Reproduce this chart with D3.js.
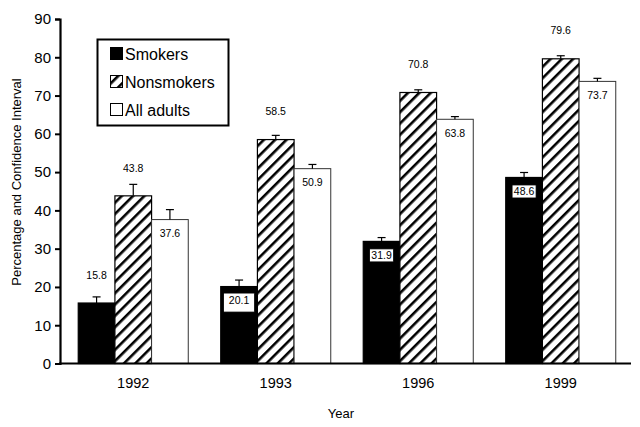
<!DOCTYPE html>
<html><head><meta charset="utf-8">
<script src="https://cdn.jsdelivr.net/npm/d3@7"></script>
<style>body{margin:0;background:#fff}svg{display:block;font-family:"Liberation Sans",Arial,sans-serif}</style>
</head><body><svg id="c" width="640" height="427"></svg>
<script>
const years = ["1992","1993","1996","1999"];
const seriesNames = ["Smokers","Nonsmokers","All adults"];
const smokers = [15.8,20.1,31.9,48.6];
const nonsmokers = [43.8,58.5,70.8,79.6];
const allAdults = [37.6,50.9,63.8,73.7];
const smokersUpper = [17.4,21.8,32.9,49.9];
const nonsmokersUpper = [46.8,59.6,71.5,80.4];
const allAdultsUpper = [40.2,52.0,64.5,74.5];
const yTicks = [0,10,20,30,40,50,60,70,80,90];

const values = [smokers, nonsmokers, allAdults];
const uppers = [smokersUpper, nonsmokersUpper, allAdultsUpper];

const svg = d3.select("#c");
const defs = svg.append("defs");
const pat = defs.append("pattern").attr("id","hatch").attr("patternUnits","userSpaceOnUse")
  .attr("width",8).attr("height",8).attr("patternTransform","rotate(45)");
pat.append("rect").attr("width",8).attr("height",8).attr("fill","#fff");
pat.append("line").attr("x1",0).attr("y1",0).attr("x2",0).attr("y2",8).attr("stroke","#000").attr("stroke-width",5.2);

const x0 = d3.scaleBand().domain(years).range([62,632]).paddingInner(0.228).paddingOuter(0.114);
const x1 = d3.scaleBand().domain(seriesNames).range([0,x0.bandwidth()]);
const y = d3.scaleLinear().domain([0,90]).range([363.5,19]);

// axes
const yAxis = svg.append("g").attr("transform","translate(60,0)")
  .call(d3.axisLeft(y).tickValues(yTicks).tickSize(5).tickPadding(4));
yAxis.select(".domain").attr("stroke-width",2.2);
yAxis.selectAll(".tick line").attr("stroke-width",2);
yAxis.selectAll("text").attr("font-size",15).attr("font-family","Liberation Sans, Arial, sans-serif").attr("fill","#000");

const fills = ["#000","url(#hatch)","#fff"];
years.forEach((yr,i)=>{
  const g = svg.append("g").attr("transform",`translate(${x0(yr)},0)`);
  seriesNames.forEach((s,j)=>{
    const v = values[j][i], up = uppers[j][i];
    const bx = x1(s), bw = x1.bandwidth();
    g.append("rect").attr("x",bx).attr("y",y(v)).attr("width",bw).attr("height",y(0)-y(v))
      .attr("fill",fills[j]).attr("stroke",j===2?"#333":"#000").attr("stroke-width",j===2?1:1.2);
    const cx = bx + bw/2;
    g.append("line").attr("x1",cx).attr("x2",cx).attr("y1",y(v)).attr("y2",y(up)).attr("stroke","#000").attr("stroke-width",1.2);
    g.append("line").attr("x1",cx-4).attr("x2",cx+4).attr("y1",y(up)).attr("y2",y(up)).attr("stroke","#000").attr("stroke-width",1.2);
    let ly, inside=false;
    if (j===1 || (j===0 && v<18)) { ly = y(v) - 28; }
    else { ly = y(v) + 14; inside = true; }
    const lbl = v.toFixed(1);
    if (j===0 && inside) {
      const big = v < 25;
      const bwid = big ? 31 : 24, bht = big ? 19 : 13;
      g.append("rect").attr("x",cx-bwid/2).attr("y",ly-bht/2+(big?2:0)).attr("width",bwid).attr("height",bht)
        .attr("fill","#fff").attr("stroke","#000").attr("stroke-width",0.8);
    }
    g.append("text").attr("x",cx).attr("y",ly).attr("dy","0.35em").attr("text-anchor","middle")
      .attr("font-size",10.5).attr("fill","#000").text(lbl);
  });
});

// x axis
svg.append("line").attr("x1",59).attr("x2",631).attr("y1",y(0)).attr("y2",y(0)).attr("stroke","#000").attr("stroke-width",2.2);
svg.append("g").selectAll("text").data(years).join("text")
  .attr("x",d=>x0(d)+x0.bandwidth()/2).attr("y",383).attr("dy","0.35em").attr("text-anchor","middle")
  .attr("font-size",14.5).text(d=>d);

svg.append("text").attr("x",341).attr("y",413).attr("dy","0.35em").attr("text-anchor","middle").attr("font-size",13).text("Year");
svg.append("text").attr("transform","translate(16,182) rotate(-90)").attr("dy","0.35em").attr("text-anchor","middle")
  .attr("font-size",13).text("Percentage and Confidence Interval");

// legend
const lg = svg.append("g");
lg.append("rect").attr("x",97.5).attr("y",39.5).attr("width",131).attr("height",86).attr("fill","#fff").attr("stroke","#000").attr("stroke-width",2);
seriesNames.forEach((s,j)=>{
  const cy = 54 + j*28;
  lg.append("rect").attr("x",110.5).attr("y",cy-6.5).attr("width",12).attr("height",12)
    .attr("fill",fills[j]).attr("stroke","#000").attr("stroke-width",1);
  lg.append("text").attr("x",125).attr("y",cy).attr("dy","0.35em").attr("font-size",16).text(s);
});
</script></body></html>
